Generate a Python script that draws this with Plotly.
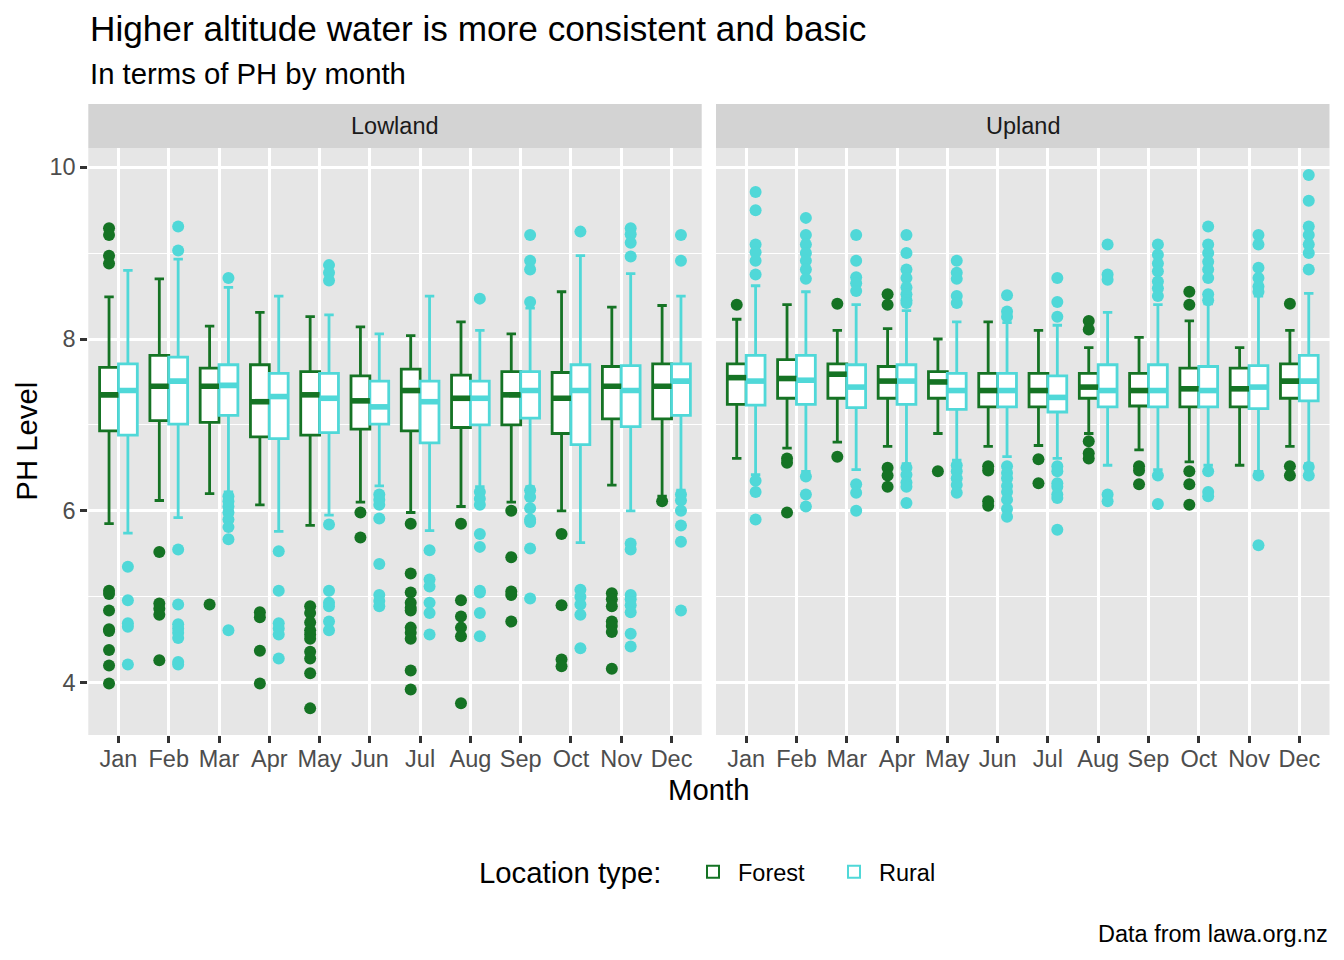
import plotly.graph_objects as go

months = ["Jan", "Feb", "Mar", "Apr", "May", "Jun", "Jul", "Aug", "Sep", "Oct", "Nov", "Dec"]
regions = ["Lowland", "Upland"]
types = ["Forest", "Rural"]

# ---- Lowland / Forest ----
lowland_forest_q1 = [6.93, 7.05, 7.03, 6.86, 6.88, 6.95, 6.93, 6.97, 7.00, 6.90, 7.07, 7.07]
lowland_forest_med = [7.35, 7.45, 7.45, 7.27, 7.35, 7.28, 7.40, 7.31, 7.35, 7.31, 7.45, 7.45]
lowland_forest_q3 = [7.67, 7.81, 7.66, 7.70, 7.62, 7.57, 7.65, 7.58, 7.62, 7.61, 7.68, 7.71]
lowland_forest_lo = [5.85, 6.12, 6.20, 6.07, 5.83, 6.10, 5.98, 6.05, 6.10, 6.00, 6.30, 6.17]
lowland_forest_hi = [8.49, 8.70, 8.15, 8.31, 8.26, 8.14, 8.04, 8.20, 8.06, 8.55, 8.37, 8.39]
lowland_forest_out = [
    [9.29, 9.21, 8.97, 8.88, 5.07, 5.03, 4.84, 4.62, 4.60, 4.38, 4.20, 3.99],
    [5.52, 4.92, 4.86, 4.79, 4.26],
    [4.91],
    [4.82, 4.76, 4.37, 3.99],
    [4.89, 4.81, 4.70, 4.61, 4.56, 4.51, 4.36, 4.28, 4.11, 3.70],
    [5.98, 5.69],
    [5.85, 5.27, 5.05, 4.93, 4.87, 4.84, 4.64, 4.58, 4.51, 4.14, 3.92],
    [5.85, 4.96, 4.77, 4.64, 4.54, 3.76],
    [6.00, 5.46, 5.06, 5.02, 4.71],
    [5.73, 4.90, 4.27, 4.19],
    [5.04, 4.97, 4.89, 4.71, 4.66, 4.59, 4.16],
    [6.11],
]

# ---- Lowland / Rural ----
lowland_rural_q1 = [6.88, 7.01, 7.11, 6.84, 6.91, 7.01, 6.79, 7.00, 7.08, 6.77, 6.98, 7.11]
lowland_rural_med = [7.40, 7.51, 7.46, 7.33, 7.31, 7.21, 7.27, 7.31, 7.40, 7.40, 7.40, 7.51]
lowland_rural_q3 = [7.71, 7.79, 7.70, 7.60, 7.60, 7.51, 7.51, 7.51, 7.62, 7.70, 7.69, 7.71]
lowland_rural_lo = [5.74, 5.92, 6.22, 5.76, 5.95, 6.29, 5.77, 6.28, 6.28, 5.63, 6.00, 6.24]
lowland_rural_hi = [8.80, 8.93, 8.60, 8.50, 8.28, 8.06, 8.50, 8.10, 8.36, 8.97, 8.76, 8.50]
lowland_rural_out = [
    [5.35, 4.96, 4.69, 4.65, 4.21],
    [9.31, 9.03, 5.55, 4.91, 4.68, 4.63, 4.58, 4.52, 4.24, 4.21],
    [8.71, 6.17, 6.11, 6.05, 5.98, 5.90, 5.81, 5.67, 4.61],
    [5.53, 5.07, 4.69, 4.63, 4.56, 4.28],
    [8.86, 8.77, 8.68, 5.84, 5.07, 4.93, 4.89, 4.71, 4.61],
    [6.19, 6.13, 6.07, 5.91, 5.38, 5.02, 4.95, 4.89],
    [5.54, 5.20, 5.12, 4.93, 4.81, 4.56],
    [8.47, 6.22, 6.14, 6.07, 5.73, 5.58, 5.07, 5.05, 4.81, 4.54],
    [9.21, 8.91, 8.81, 8.43, 6.24, 6.16, 6.03, 5.90, 5.87, 5.56, 4.98],
    [9.25, 5.08, 5.00, 4.91, 4.79, 4.40],
    [9.29, 9.22, 9.12, 8.96, 5.62, 5.55, 5.02, 4.97, 4.90, 4.82, 4.57, 4.42],
    [9.21, 8.91, 6.19, 6.12, 6.00, 5.83, 5.64, 4.84],
]

# ---- Upland / Forest ----
upland_forest_q1 = [7.24, 7.31, 7.31, 7.31, 7.31, 7.21, 7.21, 7.31, 7.22, 7.21, 7.21, 7.31]
upland_forest_med = [7.55, 7.54, 7.59, 7.51, 7.50, 7.40, 7.40, 7.44, 7.40, 7.42, 7.42, 7.51]
upland_forest_q3 = [7.71, 7.76, 7.71, 7.68, 7.62, 7.60, 7.60, 7.60, 7.60, 7.66, 7.66, 7.71]
upland_forest_lo = [6.61, 6.73, 6.80, 6.75, 6.90, 6.75, 6.76, 6.90, 6.71, 6.57, 6.53, 6.75]
upland_forest_hi = [8.23, 8.40, 8.10, 8.12, 8.00, 8.20, 8.10, 7.90, 8.02, 8.21, 7.90, 8.10]
upland_forest_out = [
    [8.40],
    [6.61, 6.56, 5.98],
    [8.41, 6.63],
    [8.52, 8.40, 6.50, 6.41, 6.28],
    [6.46],
    [6.52, 6.47, 6.11, 6.06],
    [6.60, 6.32],
    [8.21, 8.11, 6.81, 6.67, 6.61],
    [6.52, 6.47, 6.31],
    [8.55, 8.40, 6.46, 6.31, 6.07],
    [],
    [8.41, 6.52, 6.41],
]

# ---- Upland / Rural ----
upland_rural_q1 = [7.23, 7.24, 7.20, 7.24, 7.18, 7.21, 7.15, 7.21, 7.21, 7.21, 7.19, 7.28]
upland_rural_med = [7.51, 7.52, 7.44, 7.51, 7.40, 7.40, 7.32, 7.40, 7.40, 7.40, 7.44, 7.51]
upland_rural_q3 = [7.81, 7.81, 7.70, 7.70, 7.60, 7.60, 7.57, 7.70, 7.70, 7.68, 7.69, 7.81]
upland_rural_lo = [6.42, 6.46, 6.48, 6.55, 6.59, 6.63, 6.61, 6.53, 6.48, 6.53, 6.46, 6.55]
upland_rural_hi = [8.62, 8.55, 8.40, 8.33, 8.20, 8.19, 8.16, 8.31, 8.40, 8.41, 8.50, 8.53]
upland_rural_out = [
    [9.71, 9.50, 9.10, 9.01, 8.91, 8.75, 6.35, 6.22, 5.90],
    [9.41, 9.21, 9.10, 9.00, 8.91, 8.81, 8.70, 6.40, 6.19, 6.05],
    [9.21, 8.91, 8.72, 8.65, 8.56, 6.31, 6.21, 6.00],
    [9.21, 9.00, 8.81, 8.71, 8.60, 8.52, 8.45, 8.42, 6.50, 6.42, 6.33, 6.28, 6.09],
    [8.91, 8.77, 8.70, 8.50, 8.42, 6.53, 6.46, 6.38, 6.30, 6.21],
    [8.51, 8.32, 8.26, 6.52, 6.44, 6.38, 6.29, 6.22, 6.13, 6.02, 5.93],
    [8.71, 8.43, 8.26, 6.52, 6.46, 6.32, 6.28, 6.19, 6.15, 5.78],
    [9.10, 8.75, 8.69, 6.19, 6.11],
    [9.10, 8.98, 8.88, 8.79, 8.67, 8.59, 8.50, 6.41, 6.08],
    [9.31, 9.10, 9.00, 8.90, 8.81, 8.71, 8.52, 8.45, 6.46, 6.22, 6.17],
    [9.21, 9.10, 8.83, 8.71, 8.61, 8.55, 6.41, 5.60],
    [9.91, 9.61, 9.31, 9.21, 9.10, 9.00, 8.81, 6.51, 6.41],
]

# ---- styling ----
FONT = "Liberation Sans, Arial, Helvetica, sans-serif"
COLORS = {"Forest": "#157324", "Rural": "#50D8D8"}
BOX_W = 0.375
OFFSET = {"Forest": -BOX_W / 2, "Rural": BOX_W / 2}
LW = 2.8

fig = go.Figure()


def add_group(ax, ay, ttype, show, q1, med, q3, lo, hi, outs):
    color = COLORS[ttype]
    pos = [i + OFFSET[ttype] for i in range(len(months))]
    fig.add_trace(go.Box(
        x=pos, q1=q1, median=med, q3=q3, lowerfence=lo, upperfence=hi,
        width=BOX_W, fillcolor="white", line=dict(color=color, width=LW),
        name=ttype, legendgroup=ttype, showlegend=show, boxpoints=False,
        xaxis=ax, yaxis=ay, hoverinfo="skip",
    ))
    mx, my = [], []
    for p, m in zip(pos, med):
        mx += [p - BOX_W / 2, p + BOX_W / 2, None]
        my += [m, m, None]
    fig.add_trace(go.Scatter(
        x=mx, y=my, mode="lines", line=dict(color=color, width=2 * LW),
        showlegend=False, legendgroup=ttype, xaxis=ax, yaxis=ay, hoverinfo="skip",
    ))
    ox, oy = [], []
    for p, o in zip(pos, outs):
        ox += [p] * len(o)
        oy += o
    fig.add_trace(go.Scatter(
        x=ox, y=oy, mode="markers", marker=dict(color=color, size=12, line=dict(width=0)),
        showlegend=False, legendgroup=ttype, xaxis=ax, yaxis=ay, hoverinfo="skip",
    ))


add_group("x", "y", "Forest", True, lowland_forest_q1, lowland_forest_med, lowland_forest_q3,
          lowland_forest_lo, lowland_forest_hi, lowland_forest_out)
add_group("x", "y", "Rural", True, lowland_rural_q1, lowland_rural_med, lowland_rural_q3,
          lowland_rural_lo, lowland_rural_hi, lowland_rural_out)
add_group("x2", "y2", "Forest", False, upland_forest_q1, upland_forest_med, upland_forest_q3,
          upland_forest_lo, upland_forest_hi, upland_forest_out)
add_group("x2", "y2", "Rural", False, upland_rural_q1, upland_rural_med, upland_rural_q3,
          upland_rural_lo, upland_rural_hi, upland_rural_out)

W, H = 1344, 960
px = lambda v: v / W
py = lambda v: (H - v) / H

panel_left = (88.3, 716.0)
panel_right = (701.7, 1329.5)
panel_top, panel_bot = 148.3, 735.0

xaxis_common = dict(
    range=[-0.6, len(months) - 0.4],
    tickmode="array", tickvals=list(range(len(months))), ticktext=months,
    ticks="outside", ticklen=7, tickwidth=LW, tickcolor="#333333",
    tickfont=dict(size=23.5, color="#4D4D4D", family=FONT),
    ticklabelstandoff=-4,
    showgrid=True, gridcolor="white", gridwidth=LW,
    zeroline=False, showline=False, fixedrange=True,
)
yaxis_common = dict(
    range=[3.39, 10.22],
    tickmode="array", tickvals=[4, 6, 8, 10],
    showgrid=True, gridcolor="white", gridwidth=LW,
    minor=dict(tickvals=[5, 7, 9], showgrid=True, gridcolor="white", gridwidth=LW / 2, ticks=""),
    zeroline=False, showline=False, fixedrange=True,
    domain=[py(panel_bot), py(panel_top)],
)

fig.update_layout(
    width=W, height=H, margin=dict(l=0, r=0, t=0, b=0),
    paper_bgcolor="white", plot_bgcolor="#E6E6E6",
    font=dict(family=FONT, color="black"),
    xaxis=dict(xaxis_common, domain=[px(panel_left[0]), px(panel_right[0])], anchor="y"),
    xaxis2=dict(xaxis_common, domain=[px(panel_left[1]), px(panel_right[1])], anchor="y2"),
    yaxis=dict(yaxis_common, anchor="x", ticks="outside", ticklen=7, tickwidth=LW,
               tickcolor="#333333", tickfont=dict(size=23.5, color="#4D4D4D", family=FONT)),
    yaxis2=dict(yaxis_common, anchor="x2", matches="y", showticklabels=False, ticks=""),
    showlegend=True,
    legend=dict(
        orientation="h", x=px(688), xanchor="left", y=py(872), yanchor="middle",
        font=dict(size=23.5, color="black", family=FONT), bgcolor="rgba(0,0,0,0)",
        itemsizing="constant", valign="middle", itemwidth=40,
        entrywidth=86, entrywidthmode="pixels",
    ),
)

shapes = []
annotations = []
for ax, reg in zip(["x", "x2"], regions):
    shapes.append(dict(type="rect", xref=f"{ax} domain", yref="paper", x0=0, x1=1,
                       y0=py(panel_top), y1=py(104), fillcolor="#D3D3D3",
                       line=dict(width=0), layer="below"))
    annotations.append(dict(text=reg, xref=f"{ax} domain", yref="paper", x=0.5, y=py(126.2),
                            xanchor="center", yanchor="middle", showarrow=False,
                            font=dict(size=23.5, color="#1A1A1A", family=FONT)))

annotations += [
    dict(text="Higher altitude water is more consistent and basic", xref="paper", yref="paper",
         x=px(88.3), y=py(28), xanchor="left", yanchor="middle", showarrow=False,
         font=dict(size=35.2, color="black", family=FONT)),
    dict(text="In terms of PH by month", xref="paper", yref="paper",
         x=px(88.3), y=py(73), xanchor="left", yanchor="middle", showarrow=False,
         font=dict(size=29.3, color="black", family=FONT)),
    dict(text="Month", xref="paper", yref="paper",
         x=px((panel_left[0] + panel_right[1]) / 2), y=py(789), xanchor="center", yanchor="middle",
         showarrow=False, font=dict(size=29.3, color="black", family=FONT)),
    dict(text="PH Level", xref="paper", yref="paper", textangle=-90,
         x=px(27), y=py((panel_top + panel_bot) / 2), xanchor="center", yanchor="middle",
         showarrow=False, font=dict(size=29.3, color="black", family=FONT)),
    dict(text="Location type:", xref="paper", yref="paper",
         x=px(663), y=py(872), xanchor="right", yanchor="middle",
         showarrow=False, font=dict(size=29.3, color="black", family=FONT)),
    dict(text="Data from lawa.org.nz", xref="paper", yref="paper",
         x=px(1329.5), y=py(934), xanchor="right", yanchor="middle", showarrow=False,
         font=dict(size=23.5, color="black", family=FONT)),
]

fig.update_layout(shapes=shapes, annotations=annotations)

fig.write_html(
    "out.html",
    config={"displayModeBar": False},
    post_script="document.body.style.margin='0px';document.body.style.overflow='hidden';",
)
